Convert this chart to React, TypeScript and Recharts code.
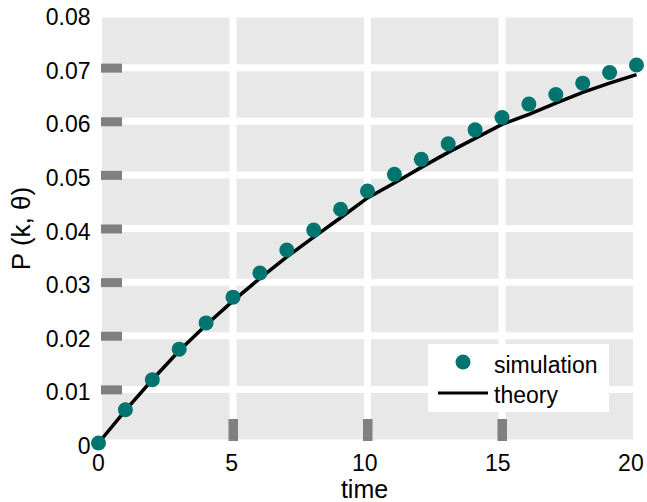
import React from 'react';
import { ComposedChart, Line, Scatter, XAxis, YAxis, CartesianGrid, Legend } from 'recharts';

const timeSteps = [0, 1, 2, 3, 4, 5, 6, 7, 8, 9, 10, 11, 12, 13, 14, 15, 16, 17, 18, 19, 20];
const simulation = [0, 0.0062, 0.0118, 0.0175, 0.0224, 0.0272, 0.0317, 0.036, 0.0397, 0.0436, 0.047, 0.0501, 0.0529, 0.0558, 0.0584, 0.0607, 0.0632, 0.065, 0.0671, 0.0691, 0.0705];
const theory = [0, 0.0061, 0.0118, 0.0172, 0.022, 0.0265, 0.0307, 0.0347, 0.0384, 0.042, 0.0457, 0.0485, 0.0514, 0.0542, 0.0568, 0.0594, 0.0613, 0.0634, 0.0654, 0.0671, 0.0687];

const xTicks = [0, 5, 10, 15, 20];
const yTicks = [0, 0.01, 0.02, 0.03, 0.04, 0.05, 0.06, 0.07, 0.08];
const yTickLabels = ['0', '0.01', '0.02', '0.03', '0.04', '0.05', '0.06', '0.07', '0.08'];

const SERIES_SIM = 'simulation';
const SERIES_THEORY = 'theory';

const TEAL = '#00756f';
const FONT = '"Liberation Sans", Arial, Helvetica, sans-serif';

const data = timeSteps.map((t, i) => ({ t, sim: simulation[i], theory: theory[i] }));

const YTick = (props: any) => {
  const { x, y, index } = props;
  const inner = index > 0 && index < yTicks.length - 1;
  return (
    <g>
      {inner && <rect x={x + 2.5} y={y - 4} width={21} height={9} fill="#808080" />}
      <text x={x - 8} y={y + 11} textAnchor="end" fontSize={23} fontFamily={FONT} fill="#000">
        {yTickLabels[index]}
      </text>
    </g>
  );
};

const XTick = (props: any) => {
  const { x, y, index, payload } = props;
  const inner = index > 0 && index < xTicks.length - 1;
  // labels sit slightly left of their grid line in the original, more so towards the right
  const dx = -1.4 * index;
  return (
    <g>
      {inner && <rect x={x - 4.5} y={y - 24} width={9.5} height={22} fill="#808080" />}
      <text x={x + dx} y={y + 28} textAnchor="middle" fontSize={23} fontFamily={FONT} fill="#000">
        {payload.value}
      </text>
    </g>
  );
};

const renderLegend = () => (
  <svg width={181} height={68} style={{ display: 'block' }}>
    <rect width={181} height={68} fill="#fff" />
    <circle cx={35} cy={18} r={7.5} fill={TEAL} />
    <text x={66} y={29} fontSize={23} fontFamily={FONT} fill="#000">{SERIES_SIM}</text>
    <line x1={10} x2={60} y1={49} y2={49} stroke="#000" strokeWidth={3} />
    <text x={66} y={59} fontSize={23} fontFamily={FONT} fill="#000">{SERIES_THEORY}</text>
  </svg>
);

const YLabel = (props: any) => {
  const { viewBox } = props;
  const cx = 21;
  const cy = viewBox.y + viewBox.height / 2;
  return (
    <text x={cx} y={cy} transform={`rotate(-90, ${cx}, ${cy})`} textAnchor="middle" dominantBaseline="central" fontSize={26} fontFamily={FONT} fill="#000">
      P (k, θ)
    </text>
  );
};

const XLabel = (props: any) => {
  const { viewBox } = props;
  return (
    <text x={viewBox.x + viewBox.width / 2 - 3} y={498} textAnchor="middle" fontSize={25} fontFamily={FONT} fill="#000">
      time
    </text>
  );
};

export default function App() {
  return (
    <div style={{ position: 'absolute', left: 0, top: 0, background: '#fff' }}>
      <ComposedChart width={647} height={502} data={data} margin={{ top: 14, right: 10.5, bottom: 0, left: 0 }}>
        <CartesianGrid fill="#e8e8e8" stroke="#fff" strokeWidth={7} />
        <XAxis
          dataKey="t"
          type="number"
          domain={[0, 20]}
          ticks={xTicks}
          height={59}
          tickSize={0}
          tickMargin={0}
          tickLine={false}
          axisLine={false}
          tick={<XTick />}
          label={<XLabel />}
        />
        <YAxis
          type="number"
          domain={[0, 0.08]}
          ticks={yTicks}
          width={98.5}
          tickSize={0}
          tickMargin={0}
          tickLine={false}
          axisLine={false}
          tick={<YTick />}
          label={<YLabel />}
        />
        <Legend
          layout="horizontal"
          verticalAlign="middle"
          align="center"
          content={renderLegend}
          wrapperStyle={{ position: 'absolute', left: 428, top: 344, width: 181, height: 68 }}
        />
        <Line
          name={SERIES_THEORY}
          dataKey="theory"
          type="linear"
          stroke="#000"
          strokeWidth={3.5}
          dot={false}
          activeDot={false}
          isAnimationActive={false}
        />
        <Scatter
          name={SERIES_SIM}
          dataKey="sim"
          fill={TEAL}
          shape={(p: any) => <circle cx={p.cx} cy={p.cy} r={7.5} fill={TEAL} />}
          isAnimationActive={false}
        />
      </ComposedChart>
    </div>
  );
}
